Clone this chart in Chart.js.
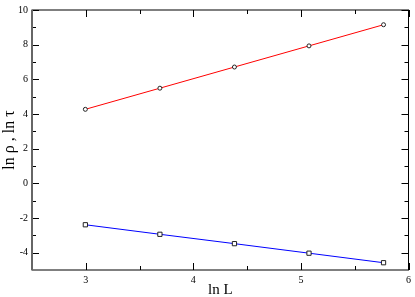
<!DOCTYPE html>
<html>
<head>
<meta charset="utf-8">
<script src="https://cdn.jsdelivr.net/npm/chart.js@4"></script>
<style>
  html, body { margin: 0; padding: 0; background: #fff; }
  #wrap { width: 415px; height: 297px; }
</style>
</head>
<body>
<div id="wrap"><canvas id="chart"></canvas></div>
<script>
// ln L for L = 20, 40, 80, 160, 320
const lnL = [2.996, 3.689, 4.382, 5.075, 5.768];
const lnRho = [4.27, 5.49, 6.71, 7.93, 9.15];
const lnTau = [-2.39, -2.94, -3.48, -4.03, -4.58];

const xMajor = [3, 4, 5, 6];
const xMinor = [3.5, 4.5, 5.5];
const yMajor = [-4, -2, 0, 2, 4, 6, 8, 10];
const yMinor = [-3, -1, 1, 3, 5, 7, 9];

const serif = "'Liberation Serif', 'DejaVu Serif', serif";

// frame with inward ticks on all four sides, like the xmgrace original
const frameTicks = {
  id: "frameTicks",
  afterDatasetsDraw(chart) {
    const { ctx, chartArea: a, scales } = chart;
    const x = scales.x, y = scales.y;
    ctx.save();
    ctx.strokeStyle = "#000";
    ctx.lineWidth = 1;
    const line = (x1, y1, x2, y2) => {
      ctx.beginPath();
      ctx.moveTo(x1, y1);
      ctx.lineTo(x2, y2);
      ctx.stroke();
    };
    xMajor.forEach((v) => {
      const px = Math.round(x.getPixelForValue(v)) + 0.5;
      line(px, a.bottom, px, a.bottom - 7);
      line(px, a.top, px, a.top + 7);
    });
    xMinor.forEach((v) => {
      const px = Math.round(x.getPixelForValue(v)) + 0.5;
      line(px, a.bottom, px, a.bottom - 4);
      line(px, a.top, px, a.top + 4);
    });
    yMajor.forEach((v) => {
      const py = Math.round(y.getPixelForValue(v)) + 0.5;
      line(a.left, py, a.left + 7, py);
      line(a.right, py, a.right - 7, py);
    });
    yMinor.forEach((v) => {
      const py = Math.round(y.getPixelForValue(v)) + 0.5;
      line(a.left, py, a.left + 4, py);
      line(a.right, py, a.right - 4, py);
    });
    ctx.strokeRect(a.left, a.top, a.right - a.left, a.bottom - a.top);
    // left spine looks heavier and greyer in the original
    ctx.strokeStyle = "#666";
    ctx.lineWidth = 2;
    line(a.left, a.top, a.left, a.bottom);
    ctx.restore();
  },
};

new Chart(document.getElementById("chart"), {
  type: "line",
  data: {
    datasets: [
      {
        label: "ln rho",
        data: lnL.map((v, i) => ({ x: v, y: lnRho[i] })),
        borderColor: "#ff0000",
        borderWidth: 1,
        pointStyle: "circle",
        pointRadius: 2,
        pointBorderColor: "#222",
        pointBackgroundColor: "#fff",
        pointBorderWidth: 1,
      },
      {
        label: "ln tau",
        data: lnL.map((v, i) => ({ x: v, y: lnTau[i] })),
        borderColor: "#0000ff",
        borderWidth: 1,
        pointStyle: "rect",
        pointRadius: 3,
        pointBorderColor: "#222",
        pointBackgroundColor: "#fff",
        pointBorderWidth: 1,
      },
    ],
  },
  options: {
    responsive: true,
    maintainAspectRatio: false,
    animation: false,
    layout: { padding: { top: 5, right: 2, left: 0, bottom: 0 } },
    plugins: { legend: { display: false }, tooltip: { enabled: false } },
    scales: {
      x: {
        type: "linear",
        min: 2.5,
        max: 6,
        grid: { display: false, drawTicks: false },
        border: { display: false },
        ticks: {
          stepSize: 1,
          padding: 4,
          color: "#000",
          font: { family: serif, size: 10 },
          callback: (v) => (Number.isInteger(v) ? v : ""),
        },
        title: {
          display: true,
          text: "ln L",
          color: "#000",
          font: { family: serif, size: 15 },
          padding: { top: 0, bottom: -2 },
        },
        afterFit: (s) => { s.height = 27; },
      },
      y: {
        min: -5,
        max: 10,
        grid: { display: false, drawTicks: false },
        border: { display: false },
        ticks: {
          stepSize: 2,
          padding: 4,
          color: "#000",
          font: { family: serif, size: 10 },
          callback: (v) => (v % 2 === 0 ? v : ""),
        },
        title: {
          display: true,
          text: "ln ρ , ln τ",
          color: "#000",
          font: { family: serif, size: 16 },
          padding: { top: 0, bottom: 0 },
        },
        afterFit: (s) => { s.width = 32; },
      },
    },
  },
  plugins: [frameTicks],
});
</script>
</body>
</html>
